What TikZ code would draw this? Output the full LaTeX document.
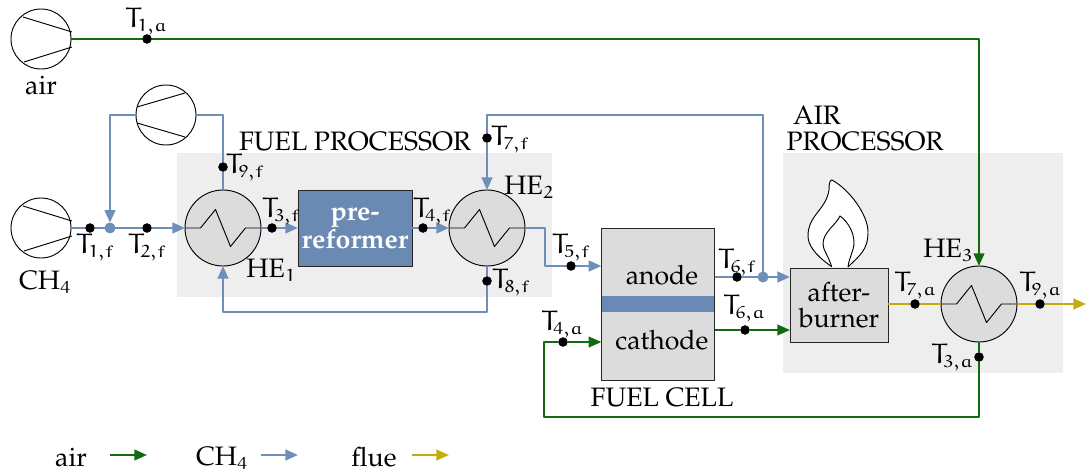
\documentclass[tikz,border=0pt]{standalone}
\usepackage[T1]{fontenc}
\renewcommand{\rmdefault}{ppl}
\usetikzlibrary{arrows.meta,calc}
\font\eulT=eurm10 at 21pt
\font\eulS=eurm7 at 13pt
\newcommand{\Tlab}[2]{\hbox{{\eulT T}\kern-1.4pt\lower3.2pt\hbox{\eulS #1\kern-0.6pt\char59\kern0pt #2}}}
\newcommand{\subnum}[1]{\lower3.2pt\hbox{\eulS #1}}
\definecolor{airc}{RGB}{16,108,16}
\definecolor{fuelc}{RGB}{112,143,184}
\definecolor{fluec}{RGB}{196,172,14}
\definecolor{bgc}{RGB}{238,238,238}
\definecolor{boxc}{RGB}{220,220,220}
\definecolor{prec}{RGB}{107,138,179}
\tikzset{
  x=0.75pt,y=-0.75pt,
  every node/.style={font=\fontsize{20}{21}\selectfont,inner sep=0pt,outer sep=0pt,align=center},
  flowtip/.style={-{Triangle[length=9.5pt,width=8pt]}},
  airline/.style={draw=airc,line width=1.5pt,line join=round},
  fuelline/.style={draw=fuelc,line width=1.8pt,line join=round},
  flueline/.style={draw=fluec,line width=1.8pt,line join=round},
  sensor/.style={circle,fill=black,minimum size=7pt},
  junction/.style={circle,fill=fuelc,minimum size=8pt},
  region/.style={fill=bgc,draw=none},
  comp/.style={circle,draw=black,fill=white,line width=0.7pt,minimum size=45pt},
  hex/.style={circle,draw=black,fill=boxc,line width=0.7pt,minimum size=57pt},
  unit/.style={draw=black!85,fill=boxc,line width=0.7pt},
  thin outline/.style={draw=black,line width=0.7pt},
}
\newcommand{\compblades}[1]{%
  \draw[thin outline] ($(#1)+(-18,-22)$) -- ($(#1)+(31,-7)$) ($(#1)+(-17,23)$) -- ($(#1)+(31,8)$);}
\newcommand{\compbladesrev}[1]{%
  \draw[thin outline] ($(#1)+(-29,-8)$) -- ($(#1)+(19,-22)$) ($(#1)+(-29,8)$) -- ($(#1)+(19,22)$);}
\newcommand{\zigzag}[1]{%
  \draw[thin outline,line join=round] ($(#1)+(-38,0)$) -- ++(15.5,0) -- ++(15,-18.5) -- ++(15,37) -- ++(15,-18.5) -- ++(15.5,0);}
\begin{document}
\begin{tikzpicture}
\useasboundingbox (0,0) rectangle (1086,475);
% regions
\fill[region] (177,153) rectangle (552,297);
\fill[region] (783,153) rectangle (1063,373);
% flame
\draw[thin outline,fill=white] (831.7,266.7) .. controls (815,255) and (808,245) .. (808,236)
  .. controls (808,215) and (826,210) .. (829,190) .. controls (829,183) and (830,180) .. (832,180)
  .. controls (850,190) and (868,215) .. (868,232) .. controls (868,250) and (860,255) .. (848,267);
\draw[thin outline,fill=white] (831.7,266.7) .. controls (828,255) and (823,250) .. (823,244)
  .. controls (823,232) and (836,225) .. (840,216) .. controls (848,222) and (854,232) .. (854,243)
  .. controls (854,250) and (849,258) .. (848,267);
% equipment
\node[comp] (cair) at (41,39) {};
\node[comp] (crec) at (166,115) {};
\node[comp] (cch4) at (41,228) {};
\node[hex] (he1) at (223,228) {};
\node[hex] (he2) at (487,228) {};
\node[hex] (he3) at (979,304) {};
\compblades{cair}\compblades{cch4}\compbladesrev{crec}
\zigzag{he1}\zigzag{he2}\zigzag{he3}
\node[draw=black!85,fill=prec,line width=0.7pt,minimum width=85.5pt,minimum height=57pt,text=white,font=\fontsize{20}{19}\selectfont\bfseries] (pre) at (355,228) {pre-\\reformer};
\node[unit,minimum width=85pt,minimum height=114pt] (fc) at (658,304) {};
\node[fill=prec,minimum width=84.6pt,minimum height=12pt] (mem) at (658,304) {};
\node[unit,minimum width=73.5pt,minimum height=55.5pt,font=\fontsize{20}{19}\selectfont] (ab) at (839,305) {after-\\burner};
% sensors
\node[sensor] (t1a) at (147,39) {};
\node[sensor] (t1f) at (90,228) {};
\node[junction] (j1) at (110,228) {};
\node[sensor] (t2f) at (147,228) {};
\node[sensor] (t9f) at (223,167) {};
\node[sensor] (t3f) at (272,228) {};
\node[sensor] (t4f) at (423,228) {};
\node[sensor] (t7f) at (487,138) {};
\node[sensor] (t8f) at (487,281) {};
\node[sensor] (t5f) at (571,266) {};
\node[sensor] (t6f) at (737,277) {};
\node[junction] (j2) at (763,277) {};
\node[sensor] (t6a) at (745,330) {};
\node[sensor] (t4a) at (563,342) {};
\node[sensor] (t3a) at (979,357) {};
\node[sensor] (t7a) at (915,304) {};
\node[sensor] (t9a) at (1040,304) {};
\coordinate (fout) at (1086,304);
% connectors
\draw[airline,flowtip] (cair.east) -- (979,39) -- (he3.north);
\draw[fuelline] (cch4.east) -- (t1f) -- (j1);
\draw[fuelline,flowtip] (j1) -- (t2f) -- (he1.west);
\draw[fuelline,flowtip] (crec.west) -| (j1.north);
\draw[fuelline] (crec.east) -| (t9f) -- (he1.north);
\draw[fuelline,flowtip] (he1.east) -- (t3f) -- (pre.west);
\draw[fuelline,flowtip] (pre.east) -- (t4f) -- (he2.west);
\draw[fuelline,flowtip] (he2.east) -- (545,228) -- (545,266) -- (t5f) -- (fc.west |- t5f);
\draw[fuelline,flowtip] (he2.south) -- (t8f) -- (487,312) -- (223,312) -- (he1.south);
\draw[fuelline,flowtip] (j2) -- (763,115) -- (487,115) -- (t7f) -- (he2.north);
\draw[fuelline] (fc.east |- t6f) -- (t6f) -- (j2);
\draw[fuelline,flowtip] (j2) -- (ab.west |- j2);
\draw[airline,flowtip] (fc.east |- t6a) -- (t6a) -- (ab.west |- t6a);
\draw[airline,flowtip] (he3.south) -- (t3a) -- (979,417) -- (544,417) -- (544,342) -- (t4a) -- (fc.west |- t4a);
\draw[flueline] (ab.east |- t7a) -- (t7a) -- (he3.west);
\draw[flueline,flowtip] (he3.east) -- (t9a) -- (fout);
\foreach \n in {t1a,t1f,t2f,t9f,t3f,t4f,t7f,t8f,t5f,t6f,t6a,t4a,t3a,t7a,t9a}{\fill (\n) circle[radius=3.4pt];}
\foreach \n in {j1,j2}{\fill[fuelc] (\n) circle[radius=4pt];}
% labels
\node (l1) at (146,20) {\Tlab{1}{a}};
\node (l2) at (95,246) {\Tlab{1}{f}};
\node (l3) at (147,246) {\Tlab{2}{f}};
\node (l4) at (245,166) {\Tlab{9}{f}};
\node (l5) at (281,210) {\Tlab{3}{f}};
\node (l6) at (432,210) {\Tlab{4}{f}};
\node (l7) at (510,137.5) {\Tlab{7}{f}};
\node (l8) at (511,281) {\Tlab{8}{f}};
\node (l9) at (571,246) {\Tlab{5}{f}};
\node (l10) at (737,261) {\Tlab{6}{f}};
\node (l11) at (744,307) {\Tlab{6}{a}};
\node (l12) at (562,322.5) {\Tlab{4}{a}};
\node (l13) at (915,284) {\Tlab{7}{a}};
\node (l14) at (1040,284) {\Tlab{9}{a}};
\node (l15) at (952,356) {\Tlab{3}{a}};
\node (he1l) at (271,270) {HE\subnum{1}};
\node (he2l) at (529,187) {HE\subnum{2}};
\node (he3l) at (948,250) {HE\subnum{3}};
\node (fp) at (355,142) {FUEL PROCESSOR};
\node (ap1) at (817,115) {AIR};
\node (ap2) at (865,142) {PROCESSOR};
\node (an) at (662,275) {anode};
\node (ca) at (662,340) {cathode};
\node (fcl) at (662,398) {FUEL CELL};
\node (airl) at (41,85) {air};
\node (ch4l) at (45,282) {CH\subnum{4}};
% legend
\node (la) at (71,457) {air};
\node (lb) at (222,458) {CH\subnum{4}};
\node (lc) at (374,457) {flue};
\coordinate (la1) at (110,455); \coordinate (la2) at (147,455);
\coordinate (lb1) at (261,455); \coordinate (lb2) at (298,455);
\coordinate (lc1) at (412,455); \coordinate (lc2) at (449,455);
\draw[airline,flowtip] (la1) -- (la2);
\draw[fuelline,flowtip] (lb1) -- (lb2);
\draw[flueline,flowtip] (lc1) -- (lc2);
\end{tikzpicture}
\end{document}
